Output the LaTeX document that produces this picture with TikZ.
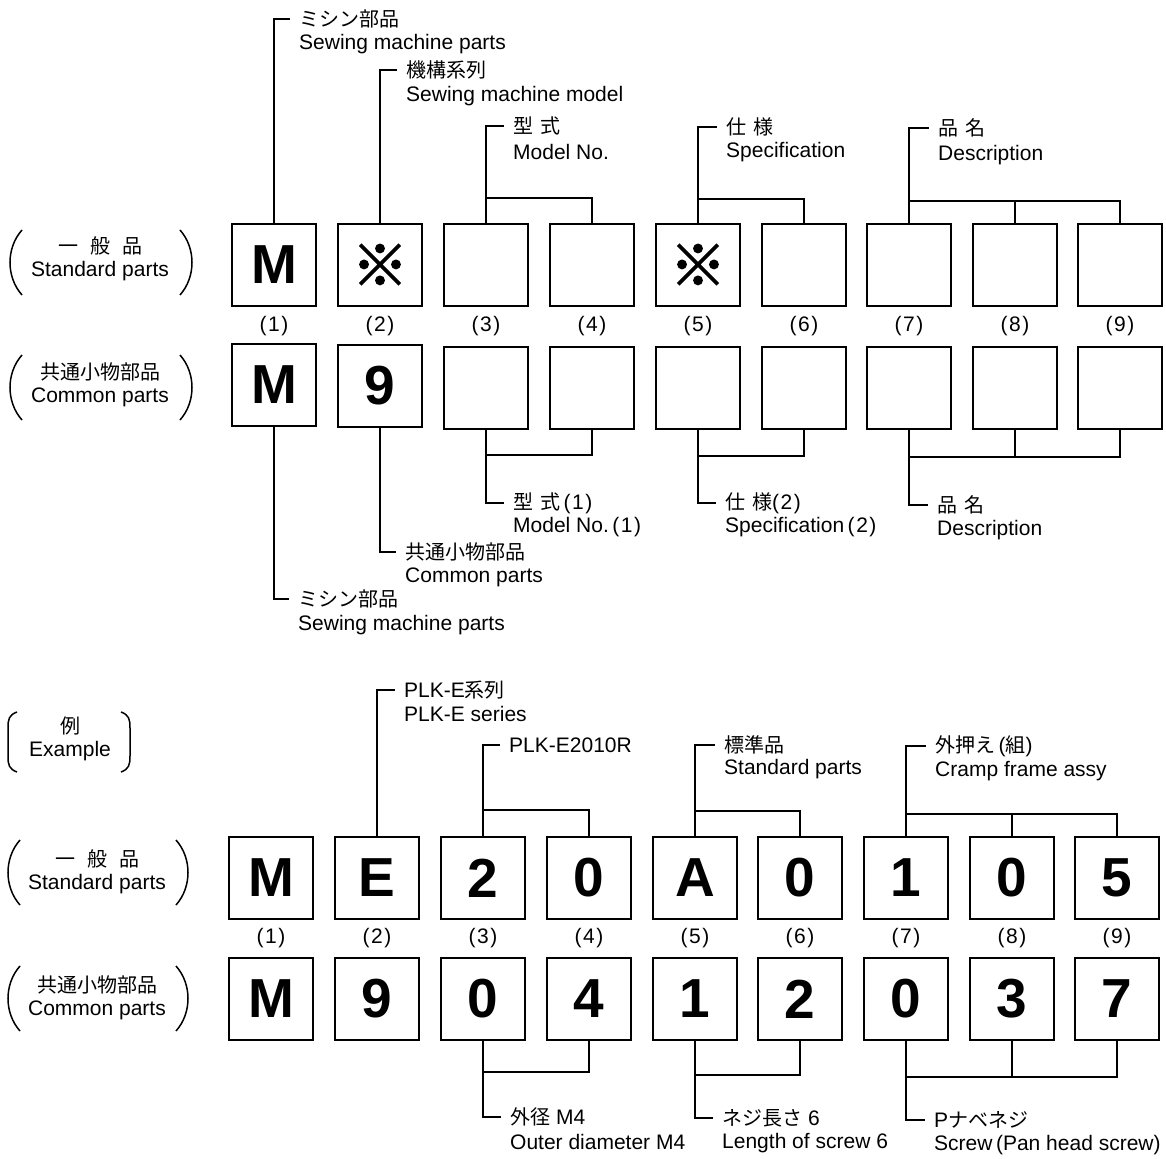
\documentclass[tikz,border=0pt]{standalone}
\usepackage{fontspec}
\setmainfont{Liberation Sans}
\newfontfamily\cjk{Noto Sans CJK JP}
\newfontfamily\cjkb[FakeBold=2.5]{Noto Sans CJK JP}
\newcommand{\enf}{\fontsize{21}{22}\selectfont}
\newcommand{\jpf}{\fontsize{20}{22}\selectfont}
\newcommand{\bigf}{\fontsize{55}{56}\selectfont\bfseries}
\newcommand{\kome}{{\cjkb\fontsize{56}{56}\selectfont ※}}
\newcommand{\pn}[1]{(\kern1.5pt#1\kern1.5pt)}
\begin{document}
\begin{tikzpicture}[x=1pt,y=-1pt,
  box/.style={draw,line width=1.6pt,minimum width=84pt,minimum height=82pt,inner sep=0pt,font=\bigf},
  en/.style={anchor=west,inner xsep=9pt,inner ysep=0pt,font=\enf},
  jp/.style={anchor=west,inner xsep=9pt,inner ysep=0pt,font=\jpf\cjk},
  mix/.style={anchor=west,inner xsep=9pt,inner ysep=0pt,font=\enf},
  numl/.style={font=\enf,inner sep=0pt},
  grp/.style={font=\enf,align=center,inner sep=0pt},
  conn/.style={line width=1.4pt},
  paren/.style={line width=1.5pt}]
\useasboundingbox (0,0) rectangle (1166,1158);

% ================= TOP SECTION =================
% Standard row
\foreach \i/\x in {1/274,2/380,3/486,4/592,5/698,6/804,7/909,8/1015,9/1120}{
  \node[box] (s\i) at (\x,265) {};
  \node[numl] (n\i) at (\x,326) {\pn{\i}};
}
\node[font=\bigf] (s1t) at (s1) {M};
\node (s2t) at (s2) {\kome};
\node (s5t) at (s5) {\kome};
% Common row
\node[box] (c1) at (274,385) {M};
\node[box] (c2) at (380,386) {9};
\foreach \i/\x in {3/486,4/592,5/698,6/804,7/909,8/1015,9/1120}{
  \node[box] (c\i) at (\x,388) {};
}

% group labels top
\node[grp] (g1) at (100,259) {{\cjk\jpf 一\hspace{0.6em}般\hspace{0.6em}品}\\[1pt]Standard parts};
\draw[paren] (22,230) .. controls (6,248) and (6,277) .. (22,295);
\draw[paren] (180,230) .. controls (196,248) and (196,277) .. (180,295);
\node[grp] (g2) at (100,385) {{\cjk\jpf 共通小物部品}\\[1pt]Common parts};
\draw[paren] (22,355) .. controls (6,373) and (6,402) .. (22,420);
\draw[paren] (180,355) .. controls (196,373) and (196,402) .. (180,420);

% labels above standard row
\node[jp] (a1j) at (290,19) {ミシン部品};
\node[en] (a1e) at (290,44) {Sewing machine parts};
\draw[conn] (s1.north) |- (a1j.west);

\node[jp] (a2j) at (397,70) {機構系列};
\node[en] (a2e) at (397,96) {Sewing machine model};
\draw[conn] (s2.north) |- (a2j.west);

\node[jp] (a3j) at (504,126) {型\hspace{0.35em}式};
\node[en] (a3e) at (504,152) {Model No.};
\coordinate (b34) at (486,198);
\draw[conn] (s3.north) -- (b34);
\draw[conn] (s4.north) |- (b34) |- (a3j.west);

\node[jp] (a5j) at (717,127) {仕\hspace{0.35em}様};
\node[en] (a5e) at (717,152) {Specification};
\coordinate (b56) at (698,199);
\draw[conn] (s5.north) -- (b56);
\draw[conn] (s6.north) |- (b56) |- (a5j.west);

\node[jp] (a7j) at (929,128) {品\hspace{0.35em}名};
\node[en] (a7e) at (929,155) {Description};
\coordinate (b79) at (909,201);
\draw[conn] (s7.north) -- (b79);
\draw[conn] (s9.north) |- (b79) |- (a7j.west);
\draw[conn] (s8.north) -- (s8.north |- b79);

% labels below common row
\node[jp] (d1j) at (289,599) {ミシン部品};
\node[en] (d1e) at (289,625) {Sewing machine parts};
\draw[conn] (c1.south) |- (d1j.west);

\node[jp] (d2j) at (396,552) {共通小物部品};
\node[en] (d2e) at (396,577) {Common parts};
\draw[conn] (c2.south) |- (d2j.west);

\node[mix] (d3j) at (504,503) {{\cjk\jpf 型\hspace{0.35em}式}\,\pn{1}};
\node[en] (d3e) at (504,527) {Model No.\,\pn{1}};
\coordinate (e34) at (486,455);
\draw[conn] (c3.south) -- (e34);
\draw[conn] (c4.south) |- (e34) |- (d3j.west);

\node[mix] (d5j) at (716,503) {{\cjk\jpf 仕\hspace{0.35em}様}\pn{2}};
\node[en] (d5e) at (716,527) {Specification\,\pn{2}};
\coordinate (e56) at (698,456);
\draw[conn] (c5.south) -- (e56);
\draw[conn] (c6.south) |- (e56) |- (d5j.west);

\node[jp] (d7j) at (928,505) {品\hspace{0.35em}名};
\node[en] (d7e) at (928,530) {Description};
\coordinate (e79) at (909,457);
\draw[conn] (c7.south) -- (e79);
\draw[conn] (c9.south) |- (e79) |- (d7j.west);
\draw[conn] (c8.south) -- (c8.south |- e79);

% ================= EXAMPLE SECTION =================
\node[grp] (gx) at (70,739) {{\cjk\jpf 例}\\[1pt]Example};
\draw[paren] (17,712) .. controls (9,715) and (8,719) .. (8,728) -- (8,756) .. controls (8,765) and (9,769) .. (17,772);
\draw[paren] (121,712) .. controls (129,715) and (130,719) .. (130,728) -- (130,756) .. controls (130,765) and (129,769) .. (121,772);

\foreach \i/\x/\t in {1/271/M,2/377/E,3/483/2,4/589/0,5/695/A,6/800/0,7/906/1,8/1012/0,9/1117/5}{
  \node[box] (es\i) at (\x,878) {\t};
  \node[numl] (en\i) at (\x,938) {\pn{\i}};
}
\foreach \i/\x/\t in {1/271/M,2/377/9,3/483/0,4/589/4,5/695/1,6/800/2,7/906/0,8/1012/3,9/1117/7}{
  \node[box] (ec\i) at (\x,999) {\t};
}

\node[grp] (gx1) at (97,872) {{\cjk\jpf 一\hspace{0.6em}般\hspace{0.6em}品}\\[1pt]Standard parts};
\draw[paren] (20,840) .. controls (4,858) and (4,887) .. (20,905);
\draw[paren] (176,840) .. controls (192,858) and (192,887) .. (176,905);
\node[grp] (gx2) at (97,998) {{\cjk\jpf 共通小物部品}\\[1pt]Common parts};
\draw[paren] (20,966) .. controls (4,984) and (4,1013) .. (20,1031);
\draw[paren] (176,966) .. controls (192,984) and (192,1013) .. (176,1031);

% labels above example standard row
\node[mix] (x2j) at (395,690) {PLK-E{\cjk\jpf 系列}};
\node[en] (x2e) at (395,714) {PLK-E series};
\draw[conn] (es2.north) |- (x2j.west);

\node[en] (x3e) at (500,745) {PLK-E2010R};
\coordinate (f34) at (483,810);
\draw[conn] (es3.north) -- (f34);
\draw[conn] (es4.north) |- (f34) |- (x3e.west);

\node[jp] (x5j) at (715,745) {標準品};
\node[en] (x5e) at (715,769) {Standard parts};
\coordinate (f56) at (695,811);
\draw[conn] (es5.north) -- (f56);
\draw[conn] (es6.north) |- (f56) |- (x5j.west);

\node[mix] (x7j) at (926,746) {{\cjk\jpf 外押え}\,({\cjk\jpf 組})};
\node[en] (x7e) at (926,771) {Cramp frame assy};
\coordinate (f79) at (906,814);
\draw[conn] (es7.north) -- (f79);
\draw[conn] (es9.north) |- (f79) |- (x7j.west);
\draw[conn] (es8.north) -- (es8.north |- f79);

% labels below example common row
\node[mix] (y3j) at (501,1117) {{\cjk\jpf 外径} M4};
\node[en] (y3e) at (501,1142) {Outer diameter M4};
\coordinate (h34) at (483,1072);
\draw[conn] (ec3.south) -- (h34);
\draw[conn] (ec4.south) |- (h34) |- (y3j.west);

\node[mix] (y5j) at (713,1118) {{\cjk\jpf ネジ長さ} 6};
\node[en] (y5e) at (713,1143) {Length of screw 6};
\coordinate (h56) at (695,1075);
\draw[conn] (ec5.south) -- (h56);
\draw[conn] (ec6.south) |- (h56) |- (y5j.west);

\node[mix] (y7j) at (925,1120) {P{\cjk\jpf ナベネジ}};
\node[en] (y7e) at (925,1145) {Screw\,(Pan head screw)};
\coordinate (h79) at (906,1077);
\draw[conn] (ec7.south) -- (h79);
\draw[conn] (ec9.south) |- (h79) |- (y7j.west);
\draw[conn] (ec8.south) -- (ec8.south |- h79);
\end{tikzpicture}
\end{document}
